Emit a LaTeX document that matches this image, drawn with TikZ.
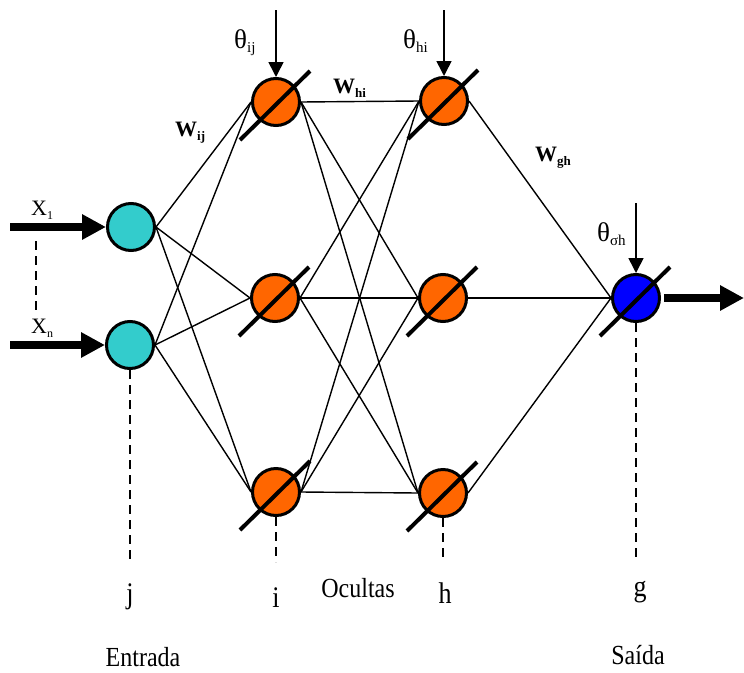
\documentclass[tikz,border=0pt]{standalone}
\usepackage{fontspec}
\setmainfont{Liberation Serif}
\usepackage{graphicx}
\usetikzlibrary{arrows.meta,calc}
\definecolor{cyanN}{HTML}{33CCCC}
\definecolor{orangeN}{HTML}{FF6600}
\definecolor{blueN}{HTML}{0000FF}
\newcommand\sbs[2]{\raisebox{-4pt}{\fontsize{#1}{#1}\selectfont #2}}
\newcommand\vst[1]{\scalebox{1}[1.15]{#1}}
\begin{document}
\begin{tikzpicture}[x=1pt,y=-1pt,
  neuron/.style={circle,draw=black,line width=3pt,minimum size=47pt,inner sep=0pt},
  conn/.style={line width=1.4pt},
  slashline/.style={line width=4pt},
  vdash/.style={line width=2pt,dash pattern=on 9pt off 6pt},
  bigarrow/.style={line width=8pt,-{Triangle[length=24pt,width=24pt]}},
  bias/.style={line width=1.6pt,-{Triangle[length=15pt,width=15pt]}},
  lbl/.style={font=\fontsize{24}{26}\selectfont,inner sep=0pt,anchor=base},
  ltr/.style={font=\fontsize{26}{28}\selectfont,inner sep=0pt,anchor=base},
  thl/.style={font=\fontsize{27}{28}\selectfont,inner sep=0pt,anchor=base west},
  wl/.style={font=\fontsize{22}{24}\selectfont\bfseries,inner sep=0pt,anchor=base west},
  xl/.style={font=\fontsize{22}{24}\selectfont,inner sep=0pt,anchor=base west}]
\useasboundingbox (0,0) rectangle (744,672);

% neurons
\node[neuron,fill=cyanN] (j1) at (131,227) {};
\node[neuron,fill=cyanN] (j2) at (130,345) {};
\node[neuron,fill=orangeN] (i1) at (276,102) {};
\node[neuron,fill=orangeN] (i2) at (275,298) {};
\node[neuron,fill=orangeN] (i3) at (276,492) {};
\node[neuron,fill=orangeN] (h1) at (444,101) {};
\node[neuron,fill=orangeN] (h2) at (443,298) {};
\node[neuron,fill=orangeN] (h3) at (443,493) {};
\node[neuron,fill=blueN] (g) at (636,298) {};

% connections
\foreach \a in {j1,j2}
  \foreach \b in {i1,i2,i3}
    \draw[conn] (\a.east) -- (\b.west);
\foreach \a in {i1,i2,i3}
  \foreach \b in {h1,h2,h3}
    \draw[conn] (\a.east) -- (\b.west);
\foreach \a in {h1,h2,h3}
  \draw[conn] (\a.east) -- (g.west);

% slashes
\foreach \n in {i1,i2,i3,h1,h2,h3,g}
  \draw[slashline] ([shift={(-36,38)}]\n.center) -- ([shift={(34,-31)}]\n.center);

% input / output arrows
\coordinate (x1s) at (10,227);
\coordinate (xns) at (10,345);
\coordinate (outp) at (744,298);
\draw[bigarrow] (x1s) -- (j1.west);
\draw[bigarrow] (xns) -- (j2.west);
\draw[bigarrow,shorten <=3pt] (g.east) -- (outp);

% bias arrows
\coordinate (bi) at (276,10);
\coordinate (bh) at (444,10);
\coordinate (bg) at (636,203);
\draw[bias] (bi) -- (i1.north);
\draw[bias] (bh) -- (h1.north);
\draw[bias] (bg) -- (g.north);

% dashed guides
\coordinate (xa) at (36,241);
\coordinate (xb) at (36,314);
\draw[vdash] (xa) -- (xb);
\coordinate (dj) at (130,562);
\coordinate (di) at (276,562);
\coordinate (dh) at (443,562);
\coordinate (dg) at (636,562);
\draw[vdash] (j2.south) -- (dj);
\draw[vdash] (i3.south) -- (di);
\draw[vdash] (h3.south) -- (dh);
\draw[vdash] (g.south) -- (dg);

% labels
\node[thl] (tij) at (234,48) {θ\sbs{15}{ij}};
\node[thl] (thi) at (403,48) {θ\sbs{15}{hi}};
\node[thl] (tgh) at (597,241) {θ\sbs{15}{σh}};
\node[wl] (wij) at (175,136) {W\sbs{13}{ij}};
\node[wl] (whi) at (333,93) {W\sbs{13}{hi}};
\node[wl] (wgh) at (535,161) {W\sbs{13}{gh}};
\node[xl] (lx1) at (31,215) {X\sbs{12}{1}};
\node[xl] (lxn) at (31,333) {X\sbs{12}{n}};

\node[ltr] (lj) at (130,603) {\vst{j}};
\node[ltr] (li) at (276,607) {\vst{i}};
\node[lbl] (loc) at (358,597) {\vst{Ocultas}};
\node[ltr] (lh) at (445,603) {\vst{h}};
\node[ltr] (lg) at (640,596) {\vst{g}};
\node[lbl] (lent) at (143,666) {\vst{Entrada}};
\node[lbl] (lsai) at (638,664) {\vst{Saída}};
\end{tikzpicture}
\end{document}
